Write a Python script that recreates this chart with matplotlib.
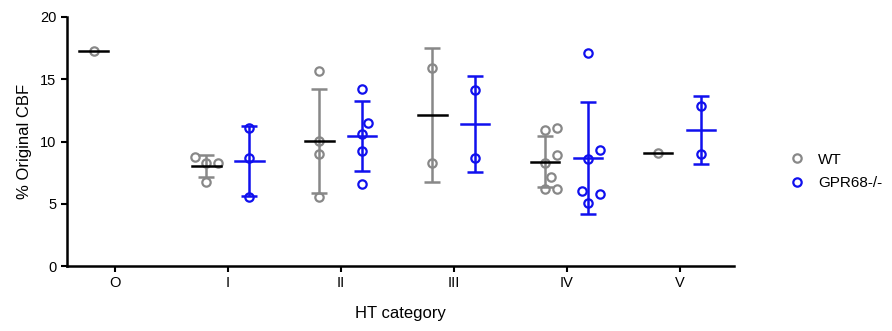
import numpy as np
import matplotlib
matplotlib.use("Agg")
import matplotlib.pyplot as plt

plt.rcParams['font.family'] = ['Liberation Sans', 'DejaVu Sans']

categories = ["O", "I", "II", "III", "IV", "V"]
wt_values = [
    [17.27],
    [8.25, 8.3, 8.78, 6.77],
    [15.66, 10.04, 8.97, 5.57],
    [15.93, 8.3],
    [10.9, 11.08, 8.89, 8.27, 7.12, 6.16, 6.21],
    [9.05],
]
ko_values = [
    [],
    [11.1, 8.7, 5.52],
    [14.22, 11.49, 10.6, 9.26, 6.61],
    [14.14, 8.7],
    [17.14, 9.35, 8.57, 6.0, 5.81, 5.06],
    [12.85, 8.97],
]
series_names = ["WT", "GPR68-/-"]
wt_color = "#888888"
ko_color = "#1010ee"

W, H = 892, 331
fig = plt.figure(figsize=(W / 100, H / 100), dpi=100)
ax = fig.add_axes([67 / W, 1 - 266 / H, (734 - 67) / W, (266 - 17) / H])
ax.set_xlim(-0.425, 5.48)
ax.set_ylim(0, 20)

px_x = 1 / 113.0   # data units per pixel (x)
px_y = 20 / 249.0  # data units per pixel (y)


def swarm(vals, d=12.0, step=6.0):
    """Simple beeswarm offsets (data x units) for values."""
    order = np.argsort(vals)
    placed = []
    offs = np.zeros(len(vals))
    cands = [0.0]
    for k in range(1, 10):
        cands += [k * step, -k * step]
    for i in order:
        yv = vals[i] / px_y
        for c in cands:
            ok = True
            for (px, py) in placed:
                if (px - c) ** 2 + (py - yv) ** 2 < d * d:
                    ok = False
                    break
            if ok:
                placed.append((c, yv))
                offs[i] = c * px_x
                break
    return offs


off = 0.19
ms = 6.0
mew = 1.6
for i, cat in enumerate(categories):
    for vals, sign, col, mcol in [(wt_values[i], -1, wt_color, "black"),
                                  (ko_values[i], 1, ko_color, ko_color)]:
        if len(vals) == 0:
            continue
        v = np.array(vals)
        xc = i + sign * off
        xs = xc + swarm(v)
        m = v.mean()
        if len(v) > 1:
            sd = v.std(ddof=1)
            ax.errorbar([xc], [m], yerr=[[sd], [sd]], fmt="none", ecolor=col,
                        elinewidth=1.8, capsize=6, capthick=1.8, zorder=2)
        ax.plot(xs, v, "o", mfc="none", mec=col, ms=ms, mew=mew, zorder=3)
        ax.plot([xc - 0.125, xc + 0.125], [m, m], color=mcol, lw=1.8, zorder=4)

ax.set_xticks(range(len(categories)))
ax.set_xticklabels(categories)
ax.set_yticks([0, 5, 10, 15, 20])
for s in ["top", "right"]:
    ax.spines[s].set_visible(False)
for s in ["left", "bottom"]:
    ax.spines[s].set_linewidth(1.8)
ax.tick_params(axis="both", length=4, width=1.5, labelsize=10.5, direction="out")
ax.set_xlabel("HT category", fontsize=12, labelpad=11)
ax.set_ylabel("% Original CBF", fontsize=12, labelpad=6)

h1 = ax.plot([], [], "o", mfc="none", mec=wt_color, ms=ms, mew=mew)[0]
h2 = ax.plot([], [], "o", mfc="none", mec=ko_color, ms=ms, mew=mew)[0]
fig.legend([h1, h2], series_names, loc="upper left",
           bbox_to_anchor=(774 / W, 1 - 139 / H), frameon=False,
           fontsize=11, handlelength=1.2, handletextpad=0.8, labelspacing=0.6)

fig.savefig("out.png", dpi=100)
